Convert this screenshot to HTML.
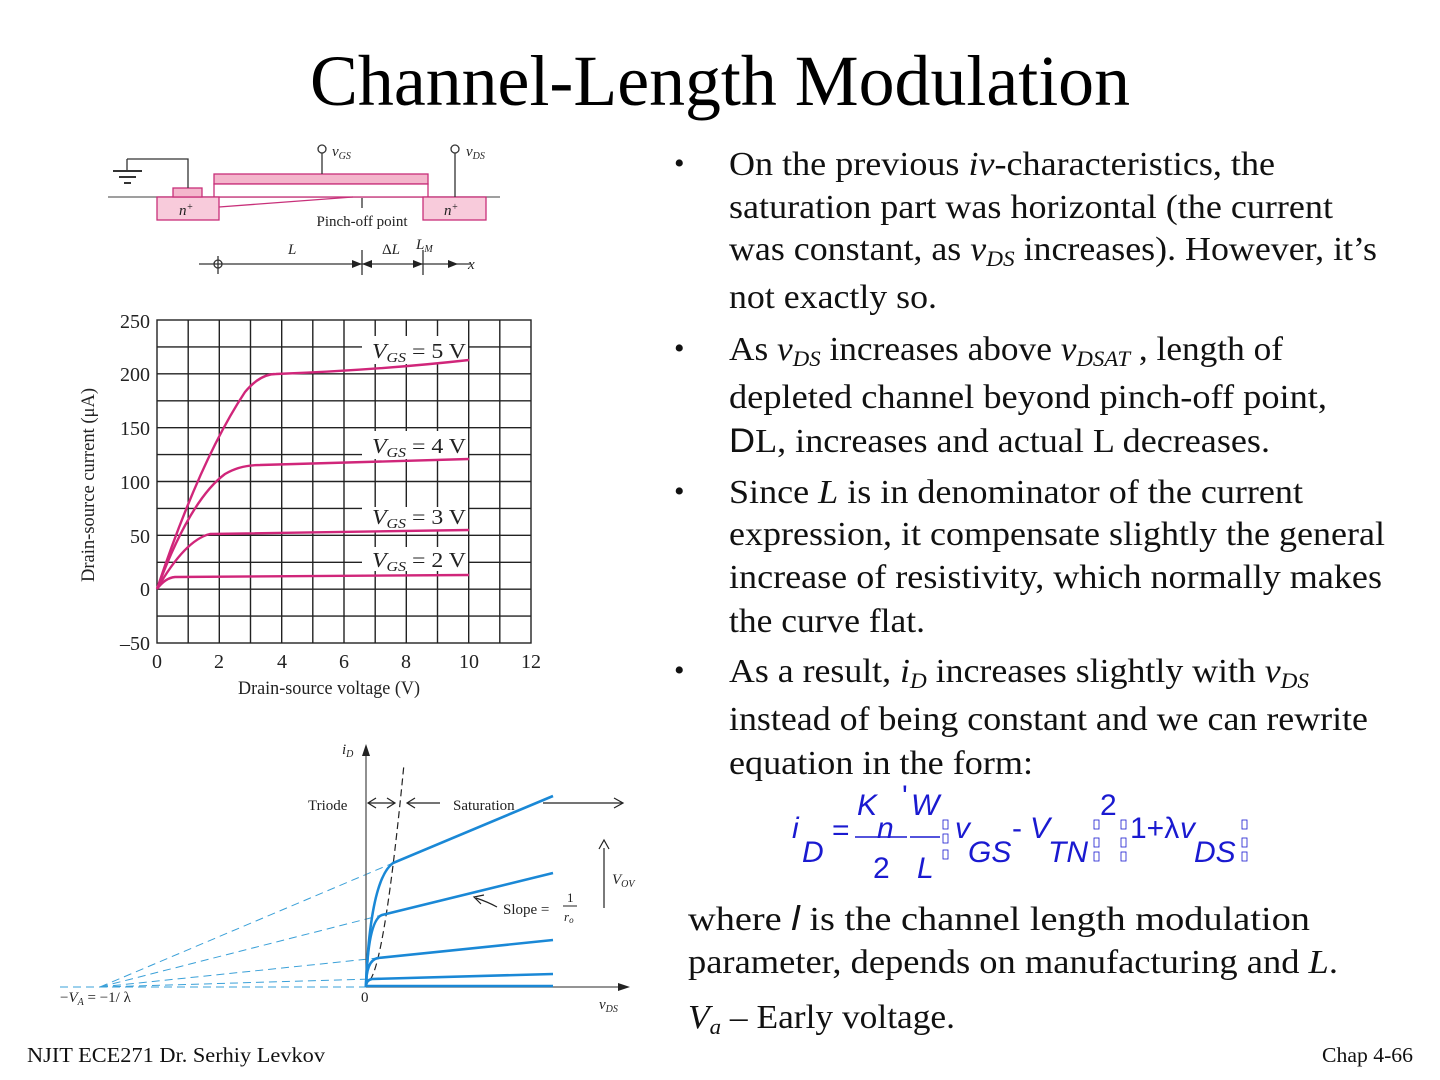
<!DOCTYPE html>
<html><head><meta charset="utf-8"><style>html,body{margin:0;padding:0;background:#fff}svg{display:block}</style></head><body>
<svg width="1440" height="1080" viewBox="0 0 1440 1080" xmlns="http://www.w3.org/2000/svg" font-family="Liberation Serif, serif">
<rect width="1440" height="1080" fill="#fff"/>
<text x="310" y="105" font-size="72" textLength="820" lengthAdjust="spacingAndGlyphs">Channel-Length Modulation</text>

<!-- Top MOSFET diagram -->
<g stroke="#333" stroke-width="1.3" fill="none">
<line x1="108" y1="197" x2="500" y2="197" stroke="#666"/>
<rect x="214" y="174" width="214" height="10" fill="#f4b6cc" stroke="#c8307a"/>
<rect x="214" y="184" width="214" height="13" fill="#fff" stroke="#c8307a"/>
<rect x="157" y="197" width="62" height="23" fill="#f8cbdb" stroke="#c8307a"/>
<rect x="423" y="197" width="63" height="23" fill="#f8cbdb" stroke="#c8307a"/>
<rect x="173" y="188" width="29" height="9" fill="#f4b6cc" stroke="#c8307a"/>
<line x1="219" y1="207" x2="353" y2="197" stroke="#c8307a"/>
<polyline points="188,188 188,159 127,159"/>
<line x1="113" y1="171" x2="142" y2="171" stroke-width="2"/>
<line x1="119" y1="177" x2="136" y2="177" stroke-width="2"/>
<line x1="124" y1="183" x2="131" y2="183" stroke-width="2"/>
<line x1="127" y1="159" x2="127" y2="171"/>
<line x1="322" y1="153" x2="322" y2="174"/><circle cx="322" cy="149" r="4"/>
<line x1="455" y1="153" x2="455" y2="197"/><circle cx="455" cy="149" r="4"/>
<line x1="362" y1="198" x2="362" y2="208"/>
<line x1="199" y1="264" x2="470" y2="264"/>
<circle cx="218" cy="264" r="4"/><line x1="218" y1="256" x2="218" y2="274"/>
<line x1="362" y1="250" x2="362" y2="275"/><line x1="423" y1="250" x2="423" y2="275"/>
</g>
<g fill="#222">
<polygon points="362,264 352,260 352,268"/><polygon points="362,264 372,260 372,268"/>
<polygon points="423,264 413,260 413,268"/><polygon points="458,264 448,260 448,268"/>
</g>
<g font-size="15" fill="#222">
<text x="332" y="156" font-style="italic">v<tspan font-size="10" dy="3">GS</tspan></text>
<text x="466" y="156" font-style="italic">v<tspan font-size="10" dy="3">DS</tspan></text>
<text x="179" y="215" font-style="italic">n<tspan font-size="10" dy="-5">+</tspan></text>
<text x="444" y="215" font-style="italic">n<tspan font-size="10" dy="-5">+</tspan></text>
<text x="362" y="226" text-anchor="middle">Pinch-off point</text>
<text x="288" y="254" font-style="italic">L</text>
<text x="382" y="254">Δ<tspan font-style="italic">L</tspan></text>
<text x="416" y="249" font-style="italic">L<tspan font-size="10" dy="3">M</tspan></text>
<text x="468" y="269" font-style="italic">x</text>
</g>

<!-- Pink chart -->
<g stroke="#222" stroke-width="1.4">
<rect x="157" y="320" width="374" height="323" fill="none"/>
<line x1="188.2" y1="320" x2="188.2" y2="643"/><line x1="219.3" y1="320" x2="219.3" y2="643"/><line x1="250.5" y1="320" x2="250.5" y2="643"/><line x1="281.7" y1="320" x2="281.7" y2="643"/><line x1="312.8" y1="320" x2="312.8" y2="643"/><line x1="344" y1="320" x2="344" y2="643"/><line x1="375.2" y1="320" x2="375.2" y2="643"/><line x1="406.3" y1="320" x2="406.3" y2="643"/><line x1="437.5" y1="320" x2="437.5" y2="643"/><line x1="468.7" y1="320" x2="468.7" y2="643"/><line x1="499.8" y1="320" x2="499.8" y2="643"/>
<line x1="157" y1="346.9" x2="531" y2="346.9"/><line x1="157" y1="373.8" x2="531" y2="373.8"/><line x1="157" y1="400.8" x2="531" y2="400.8"/><line x1="157" y1="427.7" x2="531" y2="427.7"/><line x1="157" y1="454.6" x2="531" y2="454.6"/><line x1="157" y1="481.5" x2="531" y2="481.5"/><line x1="157" y1="508.4" x2="531" y2="508.4"/><line x1="157" y1="535.3" x2="531" y2="535.3"/><line x1="157" y1="562.3" x2="531" y2="562.3"/><line x1="157" y1="589.2" x2="531" y2="589.2"/><line x1="157" y1="616.1" x2="531" y2="616.1"/>
</g>
<g fill="#fff">
<rect x="362" y="336" width="106" height="28"/><rect x="362" y="431" width="106" height="28"/>
<rect x="362" y="507" width="106" height="24"/><rect x="362" y="547" width="106" height="24"/>
</g>
<g font-size="21" fill="#222">
<text x="372" y="358" textLength="94" lengthAdjust="spacingAndGlyphs"><tspan font-style="italic">V<tspan font-size="14" dy="4">GS</tspan></tspan><tspan dy="-4"> = 5 V</tspan></text>
<text x="372" y="453" textLength="94" lengthAdjust="spacingAndGlyphs"><tspan font-style="italic">V<tspan font-size="14" dy="4">GS</tspan></tspan><tspan dy="-4"> = 4 V</tspan></text>
<text x="372" y="524" textLength="94" lengthAdjust="spacingAndGlyphs"><tspan font-style="italic">V<tspan font-size="14" dy="4">GS</tspan></tspan><tspan dy="-4"> = 3 V</tspan></text>
<text x="372" y="567" textLength="94" lengthAdjust="spacingAndGlyphs"><tspan font-style="italic">V<tspan font-size="14" dy="4">GS</tspan></tspan><tspan dy="-4"> = 2 V</tspan></text>
</g>
<g fill="none" stroke="#d0267a" stroke-width="2.4">
<path d="M157,589 Q200,460 245,392 Q260,374 276,374 Q380,370 469,360"/>
<path d="M157,589 Q190,500 225,474 Q240,465 260,465 Q380,462 469,459"/>
<path d="M157,589 Q185,540 210,534 Q300,533 469,530"/>
<path d="M157,589 Q165,578 175,577 Q300,576 469,575"/>
</g>
<g font-size="20" fill="#222">
<text x="150" y="328" text-anchor="end">250</text><text x="150" y="381" text-anchor="end">200</text><text x="150" y="435" text-anchor="end">150</text><text x="150" y="489" text-anchor="end">100</text><text x="150" y="543" text-anchor="end">50</text><text x="150" y="596" text-anchor="end">0</text><text x="150" y="650" text-anchor="end">–50</text>
<text x="157" y="668" text-anchor="middle">0</text><text x="219" y="668" text-anchor="middle">2</text><text x="282" y="668" text-anchor="middle">4</text><text x="344" y="668" text-anchor="middle">6</text><text x="406" y="668" text-anchor="middle">8</text><text x="469" y="668" text-anchor="middle">10</text><text x="531" y="668" text-anchor="middle">12</text>
<text x="238" y="694" font-size="19" textLength="182" lengthAdjust="spacingAndGlyphs">Drain-source voltage (V)</text>
<text transform="translate(94,582) rotate(-90)" font-size="19" textLength="194" lengthAdjust="spacingAndGlyphs">Drain-source current (μA)</text>
</g>

<!-- Blue chart -->
<g stroke="#3aa0d8" stroke-width="1" stroke-dasharray="8,5" fill="none">
<line x1="100" y1="987" x2="393" y2="863"/><line x1="100" y1="987" x2="382" y2="915"/><line x1="100" y1="987" x2="378" y2="958"/><line x1="100" y1="987" x2="372" y2="979"/>
<line x1="60" y1="987" x2="366" y2="987"/>
</g>
<line x1="366" y1="987" x2="622" y2="987" stroke="#555" stroke-width="1.3"/>
<polygon points="630,987 618,983 618,991" fill="#222"/>
<line x1="366" y1="987" x2="366" y2="752" stroke="#555" stroke-width="1.3"/>
<polygon points="366,744 362,756 370,756" fill="#222"/>
<path d="M370,980 Q385,960 404,764" stroke="#222" stroke-width="1.2" stroke-dasharray="7,4" fill="none"/>
<g fill="none" stroke="#1a88d6" stroke-width="2.6">
<path d="M366,987 Q370,880 393,863 L553,796"/>
<path d="M366,987 Q368,920 382,915 L553,873"/>
<path d="M366,987 Q366,960 378,958 L553,940"/>
<path d="M366,987 Q366,980 372,979 L553,974"/>
<line x1="366" y1="986" x2="553" y2="986"/>
</g>
<g stroke="#222" stroke-width="1.2" fill="none">
<line x1="368" y1="803" x2="394" y2="803"/><line x1="408" y1="803" x2="440" y2="803"/><line x1="543" y1="803" x2="622" y2="803"/>
<line x1="604" y1="908" x2="604" y2="848"/>
<path d="M497,907 Q488,902 476,898"/>
<path d="M376,798 L368,803 L376,808 M387,798 L395,803 L387,808 M415,798 L407,803 L415,808 M614,798 L623,803 L614,808 M599,849 L604,840 L609,849 M484,895 L474,897 L481,904"/>
</g>
<g font-size="15" fill="#222">
<text x="308" y="810">Triode</text>
<text x="453" y="810">Saturation</text>
<text x="342" y="754" font-style="italic">i<tspan font-size="10" dy="3">D</tspan></text>
<text x="612" y="884" font-style="italic">V<tspan font-size="10" dy="3">OV</tspan></text>
<text x="503" y="914">Slope =</text>
<text x="567" y="902" font-size="13">1</text><line x1="563" y1="906" x2="577" y2="906" stroke="#222"/>
<text x="564" y="921" font-size="13" font-style="italic">r<tspan font-size="9" dy="2">o</tspan></text>
<text x="60" y="1002">−<tspan font-style="italic">V<tspan font-size="10" dy="3">A</tspan></tspan><tspan dy="-3"> = −1/ λ</tspan></text>
<text x="361" y="1002">0</text>
<text x="599" y="1009" font-style="italic">v<tspan font-size="10" dy="3">DS</tspan></text>
</g>

<!-- Bullets -->
<g font-size="34" fill="#111">
<g font-size="30"><text x="674" y="173">•</text><text x="674" y="358">•</text><text x="674" y="501">•</text><text x="674" y="680">•</text></g>
<text x="729" y="175" textLength="546" lengthAdjust="spacingAndGlyphs">On the previous <tspan font-style="italic">iv</tspan>-characteristics, the</text>
<text x="729" y="218" textLength="604" lengthAdjust="spacingAndGlyphs">saturation part was horizontal (the current</text>
<text x="729" y="260" textLength="648" lengthAdjust="spacingAndGlyphs">was constant, as <tspan font-style="italic">v<tspan font-size="22" dy="6">DS</tspan></tspan><tspan dy="-6"> increases). However, it’s</tspan></text>
<text x="729" y="308" textLength="208" lengthAdjust="spacingAndGlyphs">not exactly so.</text>
<text x="729" y="360" textLength="554" lengthAdjust="spacingAndGlyphs">As <tspan font-style="italic">v<tspan font-size="22" dy="6">DS</tspan></tspan><tspan dy="-6"> increases above </tspan><tspan font-style="italic">v<tspan font-size="22" dy="6">DSAT</tspan></tspan><tspan dy="-6"> , length of</tspan></text>
<text x="729" y="408" textLength="598" lengthAdjust="spacingAndGlyphs">depleted channel beyond pinch-off point,</text>
<text x="729" y="452" textLength="541" lengthAdjust="spacingAndGlyphs"><tspan font-family="Liberation Sans, sans-serif">D</tspan>L, increases and actual L decreases.</text>
<text x="729" y="503" textLength="574" lengthAdjust="spacingAndGlyphs">Since <tspan font-style="italic">L</tspan> is in denominator of the current</text>
<text x="729" y="545" textLength="656" lengthAdjust="spacingAndGlyphs">expression, it compensate slightly the general</text>
<text x="729" y="588" textLength="653" lengthAdjust="spacingAndGlyphs">increase of resistivity, which normally makes</text>
<text x="729" y="632" textLength="196" lengthAdjust="spacingAndGlyphs">the curve flat.</text>
<text x="729" y="682" textLength="580" lengthAdjust="spacingAndGlyphs">As a result, <tspan font-style="italic">i<tspan font-size="22" dy="6">D</tspan></tspan><tspan dy="-6"> increases slightly with </tspan><tspan font-style="italic">v<tspan font-size="22" dy="6">DS</tspan></tspan></text>
<text x="729" y="730" textLength="639" lengthAdjust="spacingAndGlyphs">instead of being constant and we can rewrite</text>
<text x="729" y="774" textLength="304" lengthAdjust="spacingAndGlyphs">equation in the form:</text>
<text x="688" y="930" textLength="622" lengthAdjust="spacingAndGlyphs">where  <tspan font-family="Liberation Sans, sans-serif" font-style="italic">l</tspan>    is the channel length modulation</text>
<text x="688" y="973" textLength="650" lengthAdjust="spacingAndGlyphs">parameter,  depends on manufacturing and <tspan font-style="italic">L</tspan>.</text>
<text x="688" y="1028" textLength="267" lengthAdjust="spacingAndGlyphs"><tspan font-style="italic">V<tspan font-size="22" dy="6">a</tspan></tspan><tspan dy="-6"> – Early voltage.</tspan></text>
</g>

<!-- Formula -->
<g fill="#1a1ad0" font-family="Liberation Sans, sans-serif" font-style="italic" font-size="30">
<text x="792" y="838">i</text><text x="802" y="862">D</text>
<text x="832" y="840" font-style="normal">=</text>
<text x="857" y="815">K</text><text x="877" y="838">n</text><text x="902" y="806" font-style="normal">'</text>
<text x="873" y="878" font-style="normal">2</text>
<text x="911" y="815">W</text><text x="917" y="878">L</text>
<text x="955" y="838">v</text><text x="968" y="862">GS</text>
<text x="1012" y="838" font-style="normal">-</text>
<text x="1030" y="838">V</text><text x="1048" y="862">TN</text>
<text x="1100" y="815" font-style="normal">2</text>
<text x="1130" y="838" font-style="normal">1+λ</text><text x="1180" y="838">v</text><text x="1194" y="862">DS</text>
</g>
<line x1="855" y1="837" x2="907" y2="837" stroke="#1a1ad0" stroke-width="1.5"/>
<line x1="910" y1="837" x2="940" y2="837" stroke="#1a1ad0" stroke-width="1.5"/>
<g fill="none" stroke="#1a1ad0" stroke-width="0.8">
<rect x="943" y="820" width="5" height="9"/><rect x="943" y="834" width="5" height="9"/><rect x="943" y="850" width="5" height="9"/>
<rect x="1094" y="820" width="5" height="9"/><rect x="1094" y="838" width="5" height="9"/><rect x="1094" y="852" width="5" height="9"/>
<rect x="1121" y="820" width="5" height="9"/><rect x="1121" y="838" width="5" height="9"/><rect x="1121" y="852" width="5" height="9"/>
<rect x="1242" y="820" width="5" height="9"/><rect x="1242" y="838" width="5" height="9"/><rect x="1242" y="852" width="5" height="9"/>
</g>

<text x="27" y="1062" font-size="21" textLength="298" lengthAdjust="spacingAndGlyphs" fill="#111">NJIT  ECE271 Dr. Serhiy Levkov</text>
<text x="1322" y="1062" font-size="21" textLength="91" lengthAdjust="spacingAndGlyphs" fill="#111">Chap 4-66</text>
</svg>
</body></html>
